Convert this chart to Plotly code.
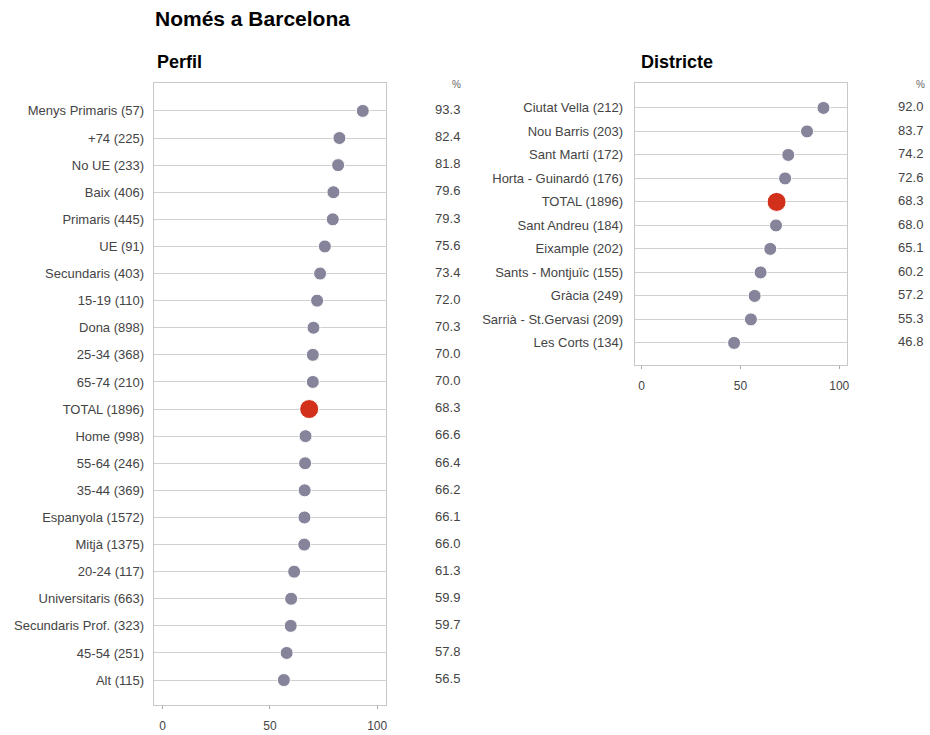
import plotly.graph_objects as go

# Perfil
perfil_labels = ["Menys Primaris (57)", "+74 (225)", "No UE (233)", "Baix (406)", "Primaris (445)",
                 "UE (91)", "Secundaris (403)", "15-19 (110)", "Dona (898)", "25-34 (368)",
                 "65-74 (210)", "TOTAL (1896)", "Home (998)", "55-64 (246)", "35-44 (369)",
                 "Espanyola (1572)", "Mitjà (1375)", "20-24 (117)", "Universitaris (663)",
                 "Secundaris Prof. (323)", "45-54 (251)", "Alt (115)"]
perfil_values = [93.3, 82.4, 81.8, 79.6, 79.3, 75.6, 73.4, 72.0, 70.3, 70.0, 70.0, 68.3,
                 66.6, 66.4, 66.2, 66.1, 66.0, 61.3, 59.9, 59.7, 57.8, 56.5]

# Districte
districte_labels = ["Ciutat Vella (212)", "Nou Barris (203)", "Sant Martí (172)",
                    "Horta - Guinardó (176)", "TOTAL (1896)", "Sant Andreu (184)",
                    "Eixample (202)", "Sants - Montjuïc (155)", "Gràcia (249)",
                    "Sarrià - St.Gervasi (209)", "Les Corts (134)"]
districte_values = [92.0, 83.7, 74.2, 72.6, 68.3, 68.0, 65.1, 60.2, 57.2, 55.3, 46.8]

x_ticks = [0, 50, 100]

GREY = "#85849a"
RED = "#d2301b"
FONT = "Liberation Sans, Arial, sans-serif"

W, H = 930, 735


def px(x):
    return x / W


def py(y):
    return 1 - y / H


def colors(labels):
    return [RED if l.startswith("TOTAL") else GREY for l in labels]


def sizes(labels):
    return [19 if l.startswith("TOTAL") else 13 for l in labels]


fig = go.Figure()

fig.add_trace(go.Scatter(x=perfil_values, y=perfil_labels, mode="markers",
                         marker=dict(color=colors(perfil_labels), size=sizes(perfil_labels), opacity=1),
                         xaxis="x", yaxis="y", hoverinfo="x+y"))
fig.add_trace(go.Scatter(x=[0] * len(perfil_values), y=perfil_labels, mode="text",
                         text=["%.1f" % v for v in perfil_values], textposition="middle right",
                         textfont=dict(size=13, color="#444", family=FONT),
                         xaxis="x3", yaxis="y3", hoverinfo="skip"))

fig.add_trace(go.Scatter(x=districte_values, y=districte_labels, mode="markers",
                         marker=dict(color=colors(districte_labels), size=sizes(districte_labels), opacity=1),
                         xaxis="x2", yaxis="y2", hoverinfo="x+y"))
fig.add_trace(go.Scatter(x=[0] * len(districte_values), y=districte_labels, mode="text",
                         text=["%.1f" % v for v in districte_values], textposition="middle right",
                         textfont=dict(size=13, color="#444", family=FONT),
                         xaxis="x4", yaxis="y4", hoverinfo="skip"))

xcommon = dict(tickvals=x_ticks, ticks="outside", ticklen=3, tickcolor="#aaa",
               showgrid=False, zeroline=False, showline=True, mirror=True, linecolor="#c8c8c8",
               tickfont=dict(size=12, color="#444"), ticklabelstandoff=7)
ycommon = dict(type="category", showgrid=True, gridcolor="#d0d0d0", gridwidth=1.4,
               zeroline=False, showline=True, mirror=True, linecolor="#c8c8c8",
               ticks="", tickfont=dict(size=13, color="#444"))
hidden = dict(range=[0, 1], visible=False, fixedrange=True)

left_y = [py(705), py(83)]
right_y = [py(365), py(83)]
left_range = [21.92, -1.03]
right_range = [10.94, -1.06]

fig.update_layout(
    width=W, height=H,
    margin=dict(l=0, r=0, t=0, b=0),
    plot_bgcolor="white", paper_bgcolor="white",
    font=dict(family=FONT, color="#444"),
    showlegend=False,
    xaxis=dict(xcommon, domain=[px(154), px(387)], range=[-4.2, 104.2], anchor="y"),
    yaxis=dict(ycommon, domain=left_y, range=left_range, anchor="x", ticklabelstandoff=6),
    xaxis2=dict(xcommon, domain=[px(636), px(849)], range=[-3.5, 104], anchor="y2"),
    yaxis2=dict(ycommon, domain=right_y, range=right_range, anchor="x2", ticklabelstandoff=8),
    xaxis3=dict(hidden, domain=[px(436), px(475)], anchor="y3"),
    yaxis3=dict(type="category", domain=left_y, range=left_range, visible=False, anchor="x3"),
    xaxis4=dict(hidden, domain=[px(900), px(930)], anchor="y4"),
    yaxis4=dict(type="category", domain=right_y, range=right_range, visible=False, anchor="x4"),
    title=dict(text="<b>Només a Barcelona</b>", x=px(155), xanchor="left",
               y=py(19), yanchor="middle", font=dict(size=21, color="#000")),
    annotations=[
        dict(text="<b>Perfil</b>", x=px(155), y=py(62), xref="paper", yref="paper",
             xanchor="left", yanchor="middle", showarrow=False, font=dict(size=18, color="#000")),
        dict(text="<b>Districte</b>", x=px(640), y=py(62), xref="paper", yref="paper",
             xanchor="left", yanchor="middle", showarrow=False, font=dict(size=18, color="#000")),
        dict(text="%", x=px(464), y=py(84), xref="paper", yref="paper",
             xanchor="right", yanchor="middle", showarrow=False, font=dict(size=10, color="#666")),
        dict(text="%", x=px(929), y=py(84), xref="paper", yref="paper",
             xanchor="right", yanchor="middle", showarrow=False, font=dict(size=10, color="#666")),
    ],
)

# drop the default 8px body margin so layout pixels match the window
fig.write_html("out.html", config={"displayModeBar": False},
               post_script="document.body.style.margin='0';")
